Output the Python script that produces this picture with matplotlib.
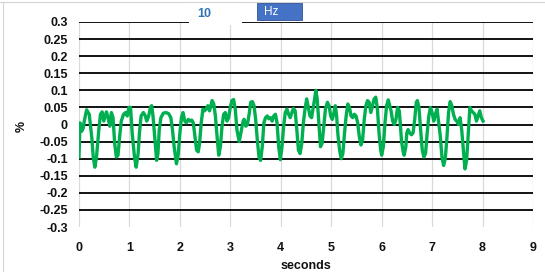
import matplotlib.pyplot as plt
from matplotlib.patches import Rectangle
from matplotlib.lines import Line2D

# signal: time (s) and deviation (%)
time_s = [
    0.000, 0.020, 0.052, 0.085, 0.098, 0.151, 0.203, 0.255, 0.282, 0.314,
    0.347, 0.393, 0.426, 0.458, 0.491, 0.544, 0.576, 0.609, 0.642, 0.675,
    0.707, 0.740, 0.773, 0.806, 0.838, 0.884, 0.923, 0.956, 0.989, 1.022,
    1.054, 1.100, 1.133, 1.172, 1.198, 1.231, 1.277, 1.316, 1.342, 1.382,
    1.415, 1.441, 1.467, 1.500, 1.539, 1.565, 1.591, 1.624, 1.670, 1.722,
    1.775, 1.821, 1.853, 1.886, 1.932, 1.965, 1.997, 2.030, 2.063, 2.096,
    2.128, 2.168, 2.200, 2.233, 2.266, 2.299, 2.331, 2.364, 2.390, 2.423,
    2.456, 2.488, 2.521, 2.554, 2.587, 2.606, 2.639, 2.672, 2.704, 2.737,
    2.770, 2.803, 2.835, 2.868, 2.901, 2.934, 2.966, 2.999, 3.032, 3.065,
    3.098, 3.130, 3.176, 3.209, 3.254, 3.274, 3.307, 3.339, 3.372, 3.404,
    3.437, 3.470, 3.502, 3.535, 3.568, 3.600, 3.633, 3.665, 3.698, 3.731,
    3.763, 3.796, 3.828, 3.861, 3.894, 3.926, 3.959, 3.992, 4.024, 4.057,
    4.089, 4.122, 4.155, 4.187, 4.220, 4.252, 4.285, 4.318, 4.350, 4.383,
    4.416, 4.448, 4.481, 4.514, 4.546, 4.579, 4.611, 4.644, 4.676, 4.696,
    4.722, 4.755, 4.787, 4.820, 4.853, 4.885, 4.924, 4.957, 4.990, 5.022,
    5.055, 5.081, 5.107, 5.133, 5.166, 5.198, 5.231, 5.264, 5.296, 5.329,
    5.361, 5.394, 5.427, 5.459, 5.492, 5.524, 5.557, 5.590, 5.622, 5.655,
    5.687, 5.720, 5.753, 5.785, 5.818, 5.851, 5.883, 5.916, 5.948, 5.981,
    6.000, 6.033, 6.066, 6.098, 6.131, 6.186, 6.218, 6.251, 6.283, 6.316,
    6.349, 6.368, 6.394, 6.427, 6.446, 6.479, 6.498, 6.524, 6.557, 6.590,
    6.622, 6.655, 6.687, 6.707, 6.739, 6.772, 6.805, 6.837, 6.870, 6.902,
    6.935, 6.967, 7.000, 7.033, 7.065, 7.098, 7.130, 7.163, 7.195, 7.228,
    7.261, 7.293, 7.326, 7.358, 7.391, 7.423, 7.456, 7.489, 7.521, 7.554,
    7.586, 7.619, 7.651, 7.684, 7.717, 7.749, 7.782, 7.814, 7.847, 7.879,
    7.912, 7.945, 7.977, 8.010,
]
shift_pct = [
    -0.095, 0.005, -0.020, -0.010, 0.005, 0.043, 0.030, -0.040, -0.095, -0.125,
    -0.095, -0.015, 0.030, 0.037, 0.010, 0.037, 0.020, -0.005, 0.035, 0.020,
    -0.055, -0.095, -0.090, -0.035, 0.010, 0.030, 0.035, 0.025, 0.050, 0.050,
    -0.025, -0.095, -0.125, -0.085, -0.025, 0.025, 0.035, 0.025, 0.010, 0.025,
    0.050, 0.055, 0.025, -0.035, -0.105, -0.085, -0.015, 0.020, 0.033, 0.035,
    0.032, 0.020, -0.015, -0.065, -0.115, -0.090, -0.030, 0.020, 0.035, 0.010,
    0.005, 0.015, 0.010, 0.013, 0.005, -0.035, -0.075, -0.080, -0.055, 0.005,
    0.045, 0.040, 0.045, 0.055, 0.040, 0.050, 0.070, 0.060, 0.025, -0.035,
    -0.090, -0.065, -0.005, 0.030, 0.035, 0.010, 0.020, 0.050, 0.070, 0.073,
    0.045, -0.015, -0.050, -0.025, 0.010, 0.015, -0.005, 0.000, 0.030, 0.065,
    0.067, 0.055, 0.015, -0.045, -0.095, -0.105, -0.065, 0.005, 0.020, 0.025,
    0.017, 0.020, 0.010, 0.025, 0.030, 0.005, -0.065, -0.103, -0.065, -0.005,
    0.035, 0.045, 0.030, 0.020, 0.035, 0.047, 0.040, -0.015, -0.075, -0.085,
    -0.055, 0.005, 0.045, 0.075, 0.050, 0.025, 0.020, 0.050, 0.080, 0.100,
    0.075, 0.005, -0.065, -0.055, -0.005, 0.045, 0.065, 0.055, 0.025, 0.015,
    0.035, 0.055, 0.025, -0.030, -0.075, -0.100, -0.085, -0.025, 0.025, 0.060,
    0.050, 0.025, 0.020, 0.030, 0.025, 0.005, -0.035, -0.060, -0.045, 0.015,
    0.055, 0.070, 0.065, 0.035, 0.055, 0.075, 0.080, 0.045, -0.025, -0.075,
    -0.090, -0.065, 0.005, 0.055, 0.072, 0.040, 0.010, 0.000, 0.015, 0.050,
    0.040, 0.005, -0.050, -0.080, -0.090, -0.065, -0.025, -0.015, -0.025, -0.030,
    -0.025, 0.015, 0.065, 0.070, 0.050, -0.015, -0.075, -0.095, -0.085, -0.025,
    0.025, 0.050, 0.035, 0.010, 0.030, 0.045, 0.005, -0.035, -0.095, -0.120,
    -0.100, -0.040, 0.035, 0.067, 0.055, 0.030, 0.015, 0.010, 0.000, 0.020,
    -0.015, -0.075, -0.130, -0.105, -0.025, 0.050, 0.040, 0.035, 0.030, 0.010,
    0.025, 0.040, 0.020, 0.010,
]

x_ticks = list(range(0, 10))
y_ticks = [0.3, 0.25, 0.2, 0.15, 0.1, 0.05, 0, -0.05, -0.1, -0.15, -0.2, -0.25, -0.3]
y_tick_labels = ["0.3", "0.25", "0.2", "0.15", "0.1", "0.05", "0",
                 "-0.05", "-0.1", "-0.15", "-0.2", "-0.25", "-0.3"]

plt.rcParams["font.family"] = ["Liberation Sans", "DejaVu Sans"]
text_color = "#111111"

W, H = 545, 272
fig = plt.figure(figsize=(W / 100, H / 100), dpi=100)
ax = fig.add_axes([79 / W, 45 / H, 454 / W, 205 / H])

# gridlines: light vertical, black horizontal (none at the bottom edge)
for xv in x_ticks:
    ax.axvline(xv, color="#d9d9d9", lw=0.9, zorder=1)
for yv in y_ticks[:-1]:
    ax.axhline(yv, color="black", lw=1.3, zorder=1)

ax.plot(time_s, shift_pct, color="#00b050", lw=2.4, zorder=3, solid_joinstyle="round")

ax.set_xlim(0, 9)
ax.set_ylim(-0.3, 0.3)
ax.set_xticks(x_ticks)
ax.set_xticklabels([str(v) for v in x_ticks], fontsize=9, fontweight="bold", color=text_color)
ax.set_yticks(y_ticks)
ax.set_yticklabels(y_tick_labels, fontsize=9, fontweight="bold", color=text_color)
ax.tick_params(length=0)
ax.tick_params(axis="x", pad=11)
ax.tick_params(axis="y", pad=8)
for s in ax.spines.values():
    s.set_visible(False)

ax.set_xlabel("seconds", fontsize=9, fontweight="bold", color=text_color, labelpad=4)
fig.text(22 / W, 1 - 126 / H, "%", rotation=90, ha="center", va="center",
         fontsize=9, fontweight="bold", color=text_color)

# spreadsheet cell borders peeking out around the chart
fig.add_artist(Line2D([0, 1], [1 - 2 / H, 1 - 2 / H], color="#d4d4d4", lw=0.8))
fig.add_artist(Line2D([3 / W, 3 / W], [0, 1 - 2 / H], color="#d4d4d4", lw=0.8))

# frequency cells over the chart
fig.add_artist(Rectangle((189 / W, 1 - 25 / H), 53 / W, 22 / H, facecolor="white",
                         edgecolor="none", transform=fig.transFigure, zorder=5))
fig.text(204 / W, 1 - 14 / H, "10", ha="center", va="center", fontsize=9,
         fontweight="semibold", color="#2e75b6", zorder=6)
fig.add_artist(Rectangle((257 / W, 1 - 20 / H), 45 / W, 17 / H, facecolor="#4472c4",
                         edgecolor="#2f528f", lw=0.6, transform=fig.transFigure, zorder=5))
fig.text(264 / W, 1 - 12 / H, "Hz", ha="left", va="center", fontsize=8.5,
         color="white", zorder=6)

fig.savefig("out.png", dpi=100)
